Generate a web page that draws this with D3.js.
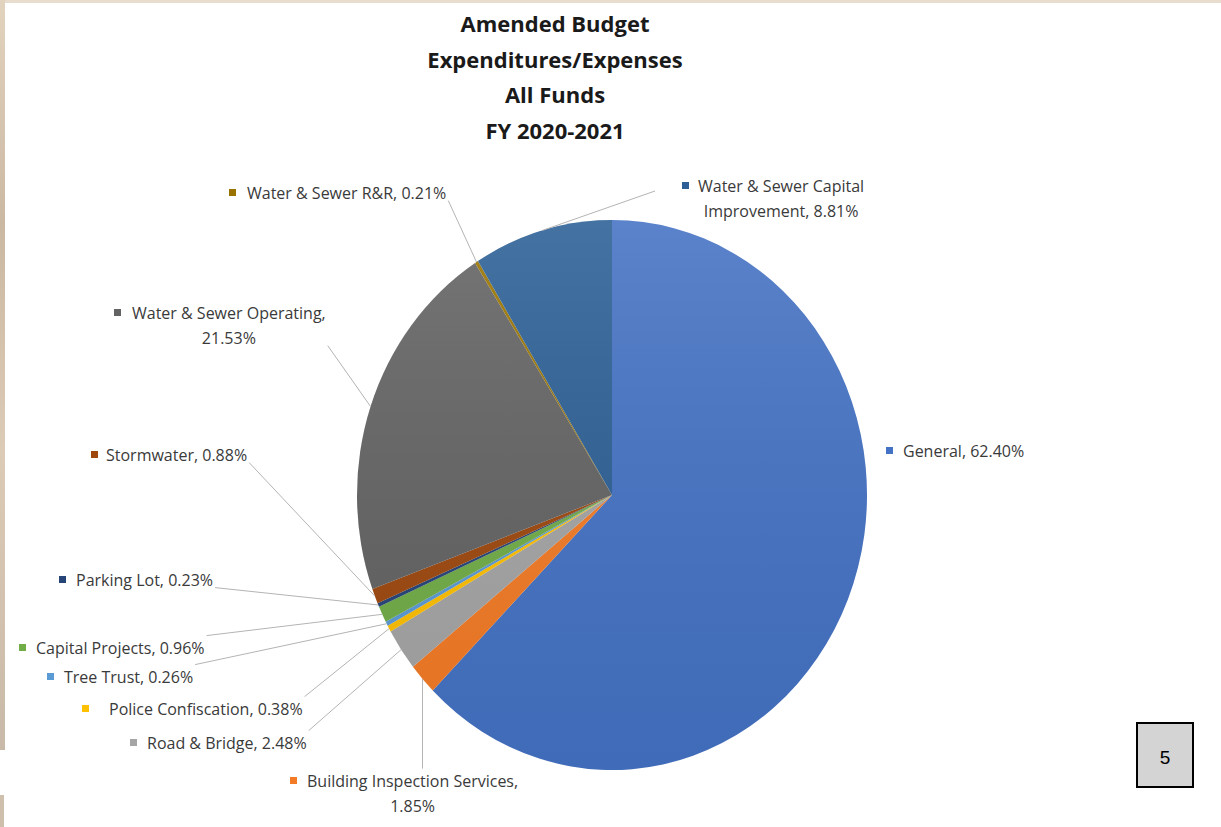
<!DOCTYPE html>
<html>
<head>
<meta charset="utf-8">
<script src="https://cdn.jsdelivr.net/npm/d3@7"></script>
<style>
  html, body { margin: 0; padding: 0; background: #fff; }
  svg { display: block; }
  .lbl { font-family: "Open Sans", sans-serif; font-size: 16px; fill: #3a3a3a; }
  .title { font-family: "Open Sans", sans-serif; font-weight: bold; font-size: 22px; fill: #1a1a1a; }
</style>
</head>
<body>
<svg id="chart" width="1221" height="827"></svg>
<script>
// fund categories, in the order the slices go clockwise from 12 o'clock
const categories = [
    "General",
    "Building Inspection Services",
    "Road & Bridge",
    "Police Confiscation",
    "Tree Trust",
    "Capital Projects",
    "Parking Lot",
    "Stormwater",
    "Water & Sewer Operating",
    "Water & Sewer R&R",
    "Water & Sewer Capital Improvement"
];
// share of amended budget, percent
const shares = [62.40, 1.85, 2.48, 0.38, 0.26, 0.96, 0.23, 0.88, 21.53, 0.21, 8.81];

const titleLines = ["Amended Budget", "Expenditures/Expenses", "All Funds", "FY 2020-2021"];
const pageNumber = "5";

// office-ish palette
const sliceColors = ["#4472c4", "#f47b25", "#a5a5a5", "#ffc000", "#5b9bd5", "#70ad47",
                     "#264478", "#9e480e", "#636363", "#997300", "#2b5f95"];

// where each label sits (marker left edge, first line middle), how many words on line 1
const labelLayout = [
    {mx: 886, y: 451, gap: 17, leader: false},
    {mx: 290, y: 781, gap: 17, split: 3},
    {mx: 130, y: 743, gap: 17},
    {mx: 82,  y: 709, gap: 27},
    {mx: 47,  y: 677, gap: 17},
    {mx: 19,  y: 648, gap: 17},
    {mx: 59,  y: 580, gap: 17},
    {mx: 91,  y: 455, gap: 15},
    {mx: 114, y: 313, gap: 18, split: 4},
    {mx: 229, y: 193, gap: 18},
    {mx: 682, y: 186, gap: 16, split: 4, padLeft: 27}
];

const W = 1221, H = 827;
const cx = 612, cy = 495, R = 255, Ry = 275;

let svg = d3.select("#chart");

// scanned page edges
let defs = svg.append("defs");
let edge = defs.append("linearGradient").attr("id", "edge")
    .attr("x1", 0).attr("y1", 0).attr("x2", 0).attr("y2", 1);
edge.append("stop").attr("offset", "0%").attr("stop-color", "#e2d3bf");
edge.append("stop").attr("offset", "30%").attr("stop-color", "#cbb8a3");
edge.append("stop").attr("offset", "60%").attr("stop-color", "#dccbb6");
edge.append("stop").attr("offset", "100%").attr("stop-color", "#c9b9a8");
svg.append("rect").attr("x", 0).attr("y", 0).attr("width", W).attr("height", 3).attr("fill", "#e7dccd");
svg.append("rect").attr("x", 0).attr("y", 0).attr("width", 5).attr("height", 750).attr("fill", "url(#edge)");
svg.append("rect").attr("x", 0).attr("y", 795).attr("width", 4).attr("height", H - 795).attr("fill", "#cfc0ae");

// title
svg.append("g").selectAll("text")
    .data(titleLines)
    .enter()
    .append("text")
        .attr("class", "title")
        .attr("text-anchor", "middle")
        .attr("x", 555)
        .attr("y", (d, i) => 32 + i * 35.5)
        .text(d => d);

// pie
let pie = d3.pie().sort(null).value(d => d);
let arcs = pie(shares);
let arc = d3.arc().innerRadius(0).outerRadius(R);

let shade = defs.append("linearGradient").attr("id", "shade")
    .attr("gradientUnits", "userSpaceOnUse")
    .attr("x1", 0).attr("y1", -R).attr("x2", 0).attr("y2", R);
shade.append("stop").attr("offset", "0%").attr("stop-color", "#fff").attr("stop-opacity", 0.12);
shade.append("stop").attr("offset", "100%").attr("stop-color", "#000").attr("stop-opacity", 0.06);

let gPie = svg.append("g")
    .attr("transform", `translate(${cx},${cy}) scale(1,${Ry / R})`);
gPie.selectAll("path.slice")
    .data(arcs)
    .enter()
    .append("path")
        .attr("class", "slice")
        .attr("d", arc)
        .attr("fill", (d, i) => sliceColors[i]);
gPie.append("ellipse").attr("rx", R).attr("ry", R).attr("fill", "url(#shade)");

// point on the rim at the middle of a slice
let rimPoint = d => {
    let a = (d.startAngle + d.endAngle) / 2;
    return [cx + R * Math.sin(a), cy - Ry * Math.cos(a)];
};

// labels
let gLines = svg.append("g");
let gLabels = svg.append("g");

arcs.forEach((d, i) => {
    let lay = labelLayout[i];
    let full = `${categories[i]}, ${shares[i].toFixed(2)}%`;
    let words = full.split(" ");
    let lines = lay.split ? [words.slice(0, lay.split).join(" "), words.slice(lay.split).join(" ")] : [full];

    let g = gLabels.append("g");
    g.append("rect")
        .attr("x", lay.mx).attr("y", lay.y - 4)
        .attr("width", 7).attr("height", 7)
        .attr("fill", sliceColors[i]);
    let tx = lay.mx + lay.gap;
    let first = g.append("text")
        .attr("class", "lbl")
        .attr("x", tx).attr("y", lay.y)
        .attr("dy", "0.35em")
        .text(lines[0]);
    if (lines.length > 1) {
        let w = first.node().getComputedTextLength();
        g.append("text")
            .attr("class", "lbl")
            .attr("text-anchor", "middle")
            .attr("x", tx + w / 2).attr("y", lay.y + 25)
            .attr("dy", "0.35em")
            .text(lines[1]);
    }

    if (lay.leader === false) return;
    let [px, py] = rimPoint(d);
    let bb = g.node().getBBox();
    let sx, sy;
    if (lay.padLeft) {
        // label frame is wider on the left, line leaves from its middle row
        sx = bb.x - lay.padLeft;
        sy = lay.y + 5;
    } else {
        sx = Math.max(bb.x - 2, Math.min(px, bb.x + bb.width + 2));
        sy = Math.max(bb.y - 1, Math.min(py, bb.y + bb.height - 3));
    }
    gLines.append("line")
        .attr("x1", sx).attr("y1", sy)
        .attr("x2", px).attr("y2", py)
        .attr("stroke", "#b4b4b4")
        .attr("stroke-width", 1);
});

// page number box
svg.append("rect")
    .attr("x", 1137).attr("y", 723)
    .attr("width", 56).attr("height", 64)
    .attr("fill", "#d4d4d4")
    .attr("stroke", "#000").attr("stroke-width", 2);
svg.append("text")
    .attr("x", 1165).attr("y", 764)
    .attr("text-anchor", "middle")
    .style("font-family", "Liberation Sans, Arial, sans-serif")
    .style("font-size", "19px")
    .attr("fill", "#000")
    .text(pageNumber);
</script>
</body>
</html>
